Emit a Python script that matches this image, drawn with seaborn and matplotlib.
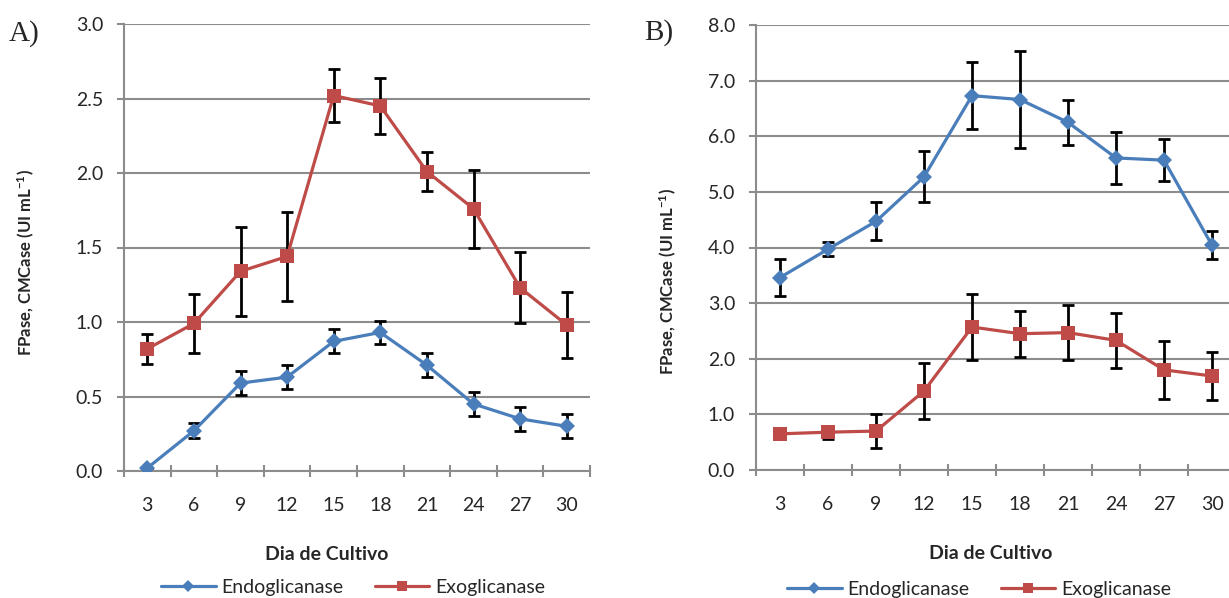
import matplotlib
matplotlib.use("Agg")
import matplotlib.pyplot as plt
from matplotlib.lines import Line2D
import pandas as pd
import seaborn as sns

# Data
dias = [3, 6, 9, 12, 15, 18, 21, 24, 27, 30]

endo_a = [0.02, 0.27, 0.59, 0.63, 0.87, 0.93, 0.71, 0.45, 0.35, 0.30]
endo_a_err = [0.0, 0.05, 0.08, 0.08, 0.08, 0.08, 0.08, 0.08, 0.08, 0.08]
exo_a = [0.82, 0.99, 1.34, 1.44, 2.52, 2.45, 2.01, 1.76, 1.23, 0.98]
exo_a_err = [0.10, 0.20, 0.30, 0.30, 0.18, 0.19, 0.13, 0.26, 0.24, 0.22]

endo_b = [3.46, 3.97, 4.47, 5.27, 6.73, 6.66, 6.25, 5.61, 5.57, 4.04]
endo_b_err = [0.33, 0.12, 0.34, 0.46, 0.60, 0.87, 0.40, 0.47, 0.38, 0.25]
exo_b = [0.65, 0.68, 0.70, 1.42, 2.57, 2.45, 2.47, 2.33, 1.80, 1.69]
exo_b_err = [0.0, 0.12, 0.30, 0.50, 0.60, 0.41, 0.50, 0.50, 0.52, 0.43]

series_names = ["Endoglicanase", "Exoglicanase"]
blue = "#4A7EBB"
red = "#BE4B48"
gray = "#8C8C8C"

sns.set_style("white")
plt.rcParams["font.family"] = ["Lato", "DejaVu Sans"]
plt.rcParams["mathtext.default"] = "regular"

W, H = 1229, 598
fig = plt.figure(figsize=(W / 100, H / 100), dpi=100)
ax_a = fig.add_axes([124 / W, 1 - 471 / H, 466 / W, 447 / H])
ax_b = fig.add_axes([756 / W, 1 - 470 / H, 480 / W, 445 / H])


def draw_panel(ax, endo, endo_err, exo, exo_err, ymax, ystep):
    df_endo = pd.DataFrame({"Dia": dias, "Atividade": endo})
    df_exo = pd.DataFrame({"Dia": dias, "Atividade": exo})

    # error bars sit under the markers
    ax.errorbar(dias, endo, yerr=endo_err, fmt="none", ecolor="black",
                elinewidth=2, capsize=4.5, capthick=2, zorder=2)
    ax.errorbar(dias, exo, yerr=exo_err, fmt="none", ecolor="black",
                elinewidth=2, capsize=4.5, capthick=2, zorder=2)

    sns.lineplot(data=df_endo, x="Dia", y="Atividade", color=blue, marker="D",
                 markersize=8, markeredgewidth=0, linewidth=2.3, ax=ax, zorder=3)
    sns.lineplot(data=df_exo, x="Dia", y="Atividade", color=red, marker="s",
                 markersize=10.5, markeredgewidth=0, linewidth=2.3, ax=ax, zorder=3)

    ax.set_xlim(1.5, 31.5)
    ax.set_ylim(0, ymax)
    yt = [i * ystep for i in range(int(round(ymax / ystep)) + 1)]
    ax.set_yticks(yt)
    ax.set_yticklabels([f"{v:.1f}" for v in yt], fontsize=14)

    ax.set_xticks([d - 1.5 for d in dias] + [31.5])
    ax.set_xticklabels([])
    ax.set_xticks(dias, minor=True)
    ax.set_xticklabels([str(d) for d in dias], minor=True, fontsize=14)
    ax.tick_params(axis="x", which="major", direction="inout", length=9,
                   width=1.5, color=gray, bottom=True)
    ax.tick_params(axis="x", which="minor", length=0, pad=19, bottom=True)
    ax.tick_params(axis="y", direction="out", length=5, width=1.5, color=gray,
                   pad=10, left=True)

    ax.grid(axis="y", color=gray, linewidth=1.5)
    ax.grid(axis="x", visible=False)
    ax.set_axisbelow(True)
    for s in ["top", "right"]:
        ax.spines[s].set_visible(False)
    for s in ["left", "bottom"]:
        ax.spines[s].set_color(gray)
        ax.spines[s].set_linewidth(1.5)

    ax.set_xlabel("Dia de Cultivo", fontsize=14, fontweight="bold")
    ax.set_ylabel("FPase, CMCase (UI mL$^{-1}$)", fontsize=12, fontweight="bold")


draw_panel(ax_a, endo_a, endo_a_err, exo_a, exo_a_err, 3.0, 0.5)
draw_panel(ax_b, endo_b, endo_b_err, exo_b, exo_b_err, 8.0, 1.0)

ax_a.xaxis.set_label_coords((327 - 124) / 466, (471 - 546) / 447)
ax_a.yaxis.set_label_coords((37 - 124) / 466, (471 - 262) / 447)
ax_b.xaxis.set_label_coords((991 - 756) / 480, (470 - 545) / 445)
ax_b.yaxis.set_label_coords((679 - 756) / 480, (470 - 281) / 445)

fig.text(9 / W, 1 - 34 / H, "A)", fontsize=21, family="Liberation Serif",
         ha="left", va="center")
fig.text(644 / W, 1 - 33 / H, "B)", fontsize=21, family="Liberation Serif",
         ha="left", va="center")

handles = [
    Line2D([], [], color=blue, marker="D", markersize=6, markeredgewidth=0, linewidth=2.3),
    Line2D([], [], color=red, marker="s", markersize=7.5, markeredgewidth=0, linewidth=2.3),
]
for cx, cy in [(353, 587), (979, 589)]:
    fig.legend(handles, series_names, loc="center", bbox_to_anchor=(cx / W, 1 - cy / H),
               ncol=2, frameon=False, fontsize=14, handlelength=2.8,
               handletextpad=0.3, columnspacing=1.6, borderpad=0)

fig.savefig("out.png", dpi=100)
